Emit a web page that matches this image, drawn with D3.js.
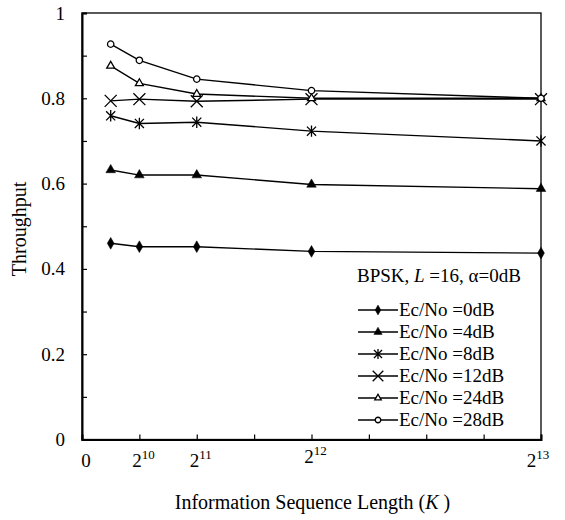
<!DOCTYPE html>
<html>
<head>
<meta charset="utf-8">
<script src="https://cdn.jsdelivr.net/npm/d3@7"></script>
<style>
  body { margin: 0; background: #fff; }
  svg { display: block; }
</style>
</head>
<body>
<svg id="chart" width="565" height="520" font-family="Liberation Serif"></svg>
<script>
// ---- data ----
const kValues = [512, 1024, 2048, 4096, 8192];
const seriesNames = ["Ec/No =0dB", "Ec/No =4dB", "Ec/No =8dB", "Ec/No =12dB", "Ec/No =24dB", "Ec/No =28dB"];
const ec0  = [0.460, 0.452, 0.452, 0.441, 0.437];
const ec4  = [0.632, 0.620, 0.620, 0.598, 0.588];
const ec8  = [0.759, 0.741, 0.744, 0.723, 0.700];
const ec12 = [0.794, 0.798, 0.793, 0.798, 0.798];
const ec24 = [0.876, 0.835, 0.810, 0.800, 0.800];
const ec28 = [0.927, 0.889, 0.845, 0.818, 0.800];
const seriesValues = [ec0, ec4, ec8, ec12, ec24, ec28];
const xTickValues = [0, 1024, 2048, 3072, 4096, 5120, 6144, 7168, 8192];
const xTickLabels = [["0", ""], ["2", "10"], ["2", "11"], ["2", "12"], ["2", "13"]];
const xLabelValues = [0, 1024, 2048, 4096, 8192];
const yTickValues = [0, 0.1, 0.2, 0.3, 0.4, 0.5, 0.6, 0.7, 0.8, 0.9, 1.0];
const yLabelValues = [0, 0.2, 0.4, 0.6, 0.8, 1.0];

// ---- layout ----
const FONT = '"Liberation Serif", serif';
const svg = d3.select("#chart");
const pLeft = 82, pRight = 541, pTop = 13, pBottom = 439.5;
const x = d3.scaleLinear().domain([0, 8192]).range([pLeft, pRight]);
const y = d3.scaleLinear().domain([0, 1]).range([pBottom, pTop]);
const FS = 19;

// frame
svg.append("rect").attr("x", pLeft).attr("y", pTop)
  .attr("width", pRight - pLeft).attr("height", pBottom - pTop)
  .attr("fill", "none").attr("stroke", "#000").attr("stroke-width", 1.3);

// y axis
const yAxis = d3.axisLeft(y).tickValues(yTickValues).tickSize(-5).tickPadding(17)
  .tickFormat(d => yLabelValues.some(v => Math.abs(v - d) < 1e-9) ? (d === 0 ? "0" : d === 1 ? "1" : d.toFixed(1)) : "");
const gy = svg.append("g").attr("transform", `translate(${pLeft},0)`).call(yAxis);
gy.attr("font-family", FONT).attr("font-size", FS);
gy.select(".domain").attr("stroke-width", 2);
gy.selectAll(".tick line").attr("stroke-width", 1.2);
gy.selectAll("text").style("font-size", FS + "px").style("font-family", FONT).attr("fill", "#000");

// x axis
const xAxis = d3.axisBottom(x).tickValues(xTickValues).tickSize(-5).tickFormat("");
const gx = svg.append("g").attr("transform", `translate(0,${pBottom})`).call(xAxis);
gx.select(".domain").attr("stroke-width", 2);
gx.selectAll(".tick line").attr("stroke-width", 1.2);

// x tick labels with superscripts
xLabelValues.forEach((v, i) => {
  const lab = xTickLabels[i];
  const t = svg.append("text")
    .attr("x", x(v) + (i === 4 ? -3 : 4))
    .attr("y", 467 - (i === 3 ? 4 : 0))
    .attr("text-anchor", "middle")
    .style("font-family", FONT)
    .style("font-size", FS + "px");
  t.append("tspan").text(lab[0]);
  if (lab[1]) t.append("tspan").attr("dy", -8).style("font-size", "13px").text(lab[1]);
});

// axis titles
svg.append("text").attr("x", pLeft + (pRight - pLeft) / 2 + 1).attr("y", 509)
  .attr("text-anchor", "middle").style("font-family", FONT).style("font-size", "20px")
  .call(t => {
    t.append("tspan").text("Information Sequence Length (");
    t.append("tspan").style("font-style", "italic").text("K");
    t.append("tspan").text(" )");
  });
svg.append("text").attr("transform", "translate(26,229) rotate(-90)")
  .attr("text-anchor", "middle").style("font-family", FONT).style("font-size", "20px").text("Throughput");

// custom asterisk: X plus vertical bar
const symbolStarX = {
  draw(ctx, size) {
    const r = Math.sqrt(size) * 0.6;
    const d = r * 0.8;
    ctx.moveTo(0, -r); ctx.lineTo(0, r);
    ctx.moveTo(-d, -d); ctx.lineTo(d, d);
    ctx.moveTo(-d, d); ctx.lineTo(d, -d);
  }
};

// symbols
const symbolTypes = [d3.symbolDiamond, d3.symbolTriangle, symbolStarX, d3.symbolTimes, d3.symbolTriangle2, d3.symbolCircle];
const filled = [true, true, false, false, false, false];
const plotSizes = [40, 40, 90, 95, 45, 32];
const legendSizes = [28, 30, 70, 75, 30, 24];

const line = d3.line().x((d, i) => x(kValues[i])).y(d => y(d));

seriesValues.forEach((vals, s) => {
  svg.append("path").datum(vals).attr("d", line)
    .attr("fill", "none").attr("stroke", "#000").attr("stroke-width", 1.4);
  const sym = d3.symbol().type(symbolTypes[s]).size(plotSizes[s]);
  svg.selectAll(null).data(vals).enter().append("path")
    .attr("transform", (d, i) => `translate(${x(kValues[i])},${y(d)})`)
    .attr("d", sym)
    .attr("fill", filled[s] ? "#000" : "#fff")
    .attr("stroke", "#000").attr("stroke-width", filled[s] ? 0.5 : 1.3);
});

// legend
const lg = svg.append("g");
lg.append("text").attr("x", 357).attr("y", 282).style("font-family", FONT).style("font-size", FS + "px")
  .call(t => {
    t.append("tspan").text("BPSK, ");
    t.append("tspan").style("font-style", "italic").text("L");
    t.append("tspan").text(" =16, α=0dB");
  });
seriesNames.forEach((name, s) => {
  const cy = 310 + s * 22;
  lg.append("line").attr("x1", 358).attr("x2", 398).attr("y1", cy).attr("y2", cy)
    .attr("stroke", "#000").attr("stroke-width", 1.4);
  lg.append("path").attr("transform", `translate(378,${cy})`)
    .attr("d", d3.symbol().type(symbolTypes[s]).size(legendSizes[s]))
    .attr("fill", filled[s] ? "#000" : "#fff")
    .attr("stroke", "#000").attr("stroke-width", filled[s] ? 0.5 : 1.3);
  lg.append("text").attr("x", 399).attr("y", cy + 6).style("font-family", FONT).style("font-size", FS + "px").text(name);
});
</script>
</body>
</html>
